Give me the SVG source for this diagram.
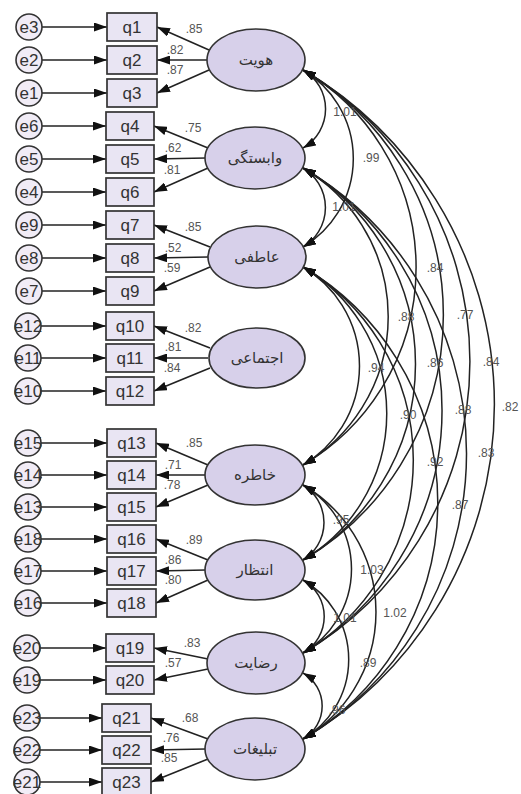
<svg xmlns="http://www.w3.org/2000/svg" width="521" height="794" viewBox="0 0 521 794">
<style>
.ec{fill:#f1ecf6;stroke:#333;stroke-width:1.6}
.bx{fill:#e9e5f3;stroke:#333;stroke-width:1.7}
.fa{fill:#d7d0ea;stroke:#333;stroke-width:1.6}
.et{font-family:"Liberation Sans",Arial,sans-serif;font-size:17px;fill:#333;text-anchor:middle}
.qt{font-family:"Liberation Sans",Arial,sans-serif;font-size:17px;fill:#333;text-anchor:middle}
.ft{font-family:"DejaVu Sans",sans-serif;font-size:15px;fill:#333;text-anchor:middle}
.lb{font-family:"Liberation Sans",Arial,sans-serif;font-size:12px;fill:#555;text-anchor:middle}
.ln{stroke:#222;stroke-width:1.6;fill:none;marker-end:url(#ah)}
.cv{stroke:#222;stroke-width:1.5;fill:none;marker-start:url(#ah);marker-end:url(#ah)}
</style>
<defs>
<marker id="ah" viewBox="0 0 13 9" refX="13" refY="4.5" markerWidth="13" markerHeight="9" markerUnits="userSpaceOnUse" orient="auto-start-reverse"><path d="M0,0 L13,4.5 L0,9 z" fill="#111"/></marker>
</defs>
<rect width="521" height="794" fill="#fff"/>

<g id="connectors">
<line class="ln" x1="42" y1="27" x2="107" y2="27"/>
<line class="ln" x1="42" y1="60" x2="107" y2="60"/>
<line class="ln" x1="42" y1="93" x2="107" y2="93"/>
<line class="ln" x1="42" y1="126" x2="106" y2="126"/>
<line class="ln" x1="42" y1="159" x2="106" y2="159"/>
<line class="ln" x1="42" y1="192" x2="106" y2="192"/>
<line class="ln" x1="42" y1="225" x2="106" y2="225"/>
<line class="ln" x1="42" y1="258" x2="106" y2="258"/>
<line class="ln" x1="42" y1="291" x2="106" y2="291"/>
<line class="ln" x1="41" y1="326" x2="106" y2="326"/>
<line class="ln" x1="41" y1="358" x2="106" y2="358"/>
<line class="ln" x1="41" y1="391" x2="106" y2="391"/>
<line class="ln" x1="41" y1="443" x2="107" y2="443"/>
<line class="ln" x1="41" y1="475" x2="107" y2="475"/>
<line class="ln" x1="41" y1="507" x2="107" y2="507"/>
<line class="ln" x1="41" y1="539" x2="107" y2="539"/>
<line class="ln" x1="41" y1="571" x2="107" y2="571"/>
<line class="ln" x1="41" y1="603" x2="107" y2="603"/>
<line class="ln" x1="40" y1="648" x2="106" y2="648"/>
<line class="ln" x1="40" y1="680" x2="106" y2="680"/>
<line class="ln" x1="40" y1="718" x2="102" y2="718"/>
<line class="ln" x1="40" y1="750" x2="102" y2="750"/>
<line class="ln" x1="40" y1="782" x2="102" y2="782"/>
<line class="ln" x1="209" y1="50" x2="157" y2="27"/>
<line class="ln" x1="207" y1="60" x2="157" y2="60"/>
<line class="ln" x1="209" y1="70" x2="157" y2="93"/>
<line class="ln" x1="208" y1="148" x2="154" y2="126"/>
<line class="ln" x1="206" y1="158" x2="154" y2="159"/>
<line class="ln" x1="208" y1="168" x2="154" y2="192"/>
<line class="ln" x1="210" y1="247" x2="154" y2="225"/>
<line class="ln" x1="208" y1="257" x2="154" y2="258"/>
<line class="ln" x1="210" y1="267" x2="154" y2="291"/>
<line class="ln" x1="210" y1="348" x2="154" y2="326"/>
<line class="ln" x1="208" y1="358" x2="154" y2="358"/>
<line class="ln" x1="210" y1="368" x2="154" y2="391"/>
<line class="ln" x1="208" y1="465" x2="156" y2="443"/>
<line class="ln" x1="206" y1="475" x2="156" y2="475"/>
<line class="ln" x1="208" y1="485" x2="156" y2="507"/>
<line class="ln" x1="208" y1="560" x2="156" y2="539"/>
<line class="ln" x1="206" y1="570" x2="156" y2="571"/>
<line class="ln" x1="208" y1="580" x2="156" y2="603"/>
<line class="ln" x1="208" y1="659" x2="154" y2="648"/>
<line class="ln" x1="208" y1="669" x2="154" y2="680"/>
<line class="ln" x1="208" y1="739" x2="151" y2="718"/>
<line class="ln" x1="206" y1="749" x2="151" y2="750"/>
<line class="ln" x1="208" y1="759" x2="151" y2="782"/>
<path class="cv" d="M303,70 A45,45 0 0 1 303,148"/>
<path class="cv" d="M303,70 A103,103 0 0 1 303,247"/>
<path class="cv" d="M303,70 A229,229 0 0 1 303,465"/>
<path class="cv" d="M303,70 A284,284 0 0 1 303,560"/>
<path class="cv" d="M303,70 A338,338 0 0 1 303,653"/>
<path class="cv" d="M303,70 A388,388 0 0 1 303,739"/>
<path class="cv" d="M303,168 A46,46 0 0 1 303,247"/>
<path class="cv" d="M303,168 A172,172 0 0 1 303,465"/>
<path class="cv" d="M303,168 A227,227 0 0 1 303,560"/>
<path class="cv" d="M303,168 A281,281 0 0 1 303,653"/>
<path class="cv" d="M303,168 A331,331 0 0 1 303,739"/>
<path class="cv" d="M303,267 A115,115 0 0 1 303,465"/>
<path class="cv" d="M303,267 A170,170 0 0 1 303,560"/>
<path class="cv" d="M303,267 A224,224 0 0 1 303,653"/>
<path class="cv" d="M303,267 A274,274 0 0 1 303,739"/>
<path class="cv" d="M303,485 A44,44 0 0 1 303,560"/>
<path class="cv" d="M303,485 A97,97 0 0 1 303,653"/>
<path class="cv" d="M303,485 A147,147 0 0 1 303,739"/>
<path class="cv" d="M303,580 A42,42 0 0 1 303,653"/>
<path class="cv" d="M303,580 A92,92 0 0 1 303,739"/>
<path class="cv" d="M303,673 A38,38 0 0 1 303,739"/>
</g>

<g id="labels">
<text class="lb" x="194" y="33">.85</text>
<text class="lb" x="175" y="54">.82</text>
<text class="lb" x="175" y="74">.87</text>
<text class="lb" x="193" y="132">.75</text>
<text class="lb" x="173" y="152">.62</text>
<text class="lb" x="172" y="174">.81</text>
<text class="lb" x="193" y="231">.85</text>
<text class="lb" x="173" y="252">.52</text>
<text class="lb" x="172" y="272">.59</text>
<text class="lb" x="193" y="332">.82</text>
<text class="lb" x="173" y="351">.81</text>
<text class="lb" x="172" y="372">.84</text>
<text class="lb" x="194" y="447">.85</text>
<text class="lb" x="173" y="469">.71</text>
<text class="lb" x="172" y="489">.78</text>
<text class="lb" x="194" y="544">.89</text>
<text class="lb" x="173" y="564">.86</text>
<text class="lb" x="173" y="584">.80</text>
<text class="lb" x="192" y="647">.83</text>
<text class="lb" x="173" y="667">.57</text>
<text class="lb" x="190" y="722">.68</text>
<text class="lb" x="171" y="742">.76</text>
<text class="lb" x="169" y="762">.85</text>
<text class="lb" x="345" y="116">1.01</text>
<text class="lb" x="371" y="162">.99</text>
<text class="lb" x="344" y="211">1.01</text>
<text class="lb" x="435" y="272">.84</text>
<text class="lb" x="406" y="321">.88</text>
<text class="lb" x="465" y="319">.77</text>
<text class="lb" x="376" y="372">.94</text>
<text class="lb" x="435" y="367">.86</text>
<text class="lb" x="491" y="366">.84</text>
<text class="lb" x="510" y="411">.82</text>
<text class="lb" x="408" y="419">.90</text>
<text class="lb" x="463" y="414">.88</text>
<text class="lb" x="435" y="466">.92</text>
<text class="lb" x="486" y="457">.83</text>
<text class="lb" x="460" y="509">.87</text>
<text class="lb" x="341" y="524">.95</text>
<text class="lb" x="372" y="574">1.03</text>
<text class="lb" x="395" y="617">1.02</text>
<text class="lb" x="345" y="622">1.01</text>
<text class="lb" x="368" y="667">.89</text>
<text class="lb" x="337" y="714">.96</text>
</g>

<g id="e3"><circle class="ec" cx="29" cy="27" r="13"/><text class="et" x="29" y="33">e3</text></g>
<g id="e2"><circle class="ec" cx="29" cy="60" r="13"/><text class="et" x="29" y="66">e2</text></g>
<g id="e1"><circle class="ec" cx="29" cy="93" r="13"/><text class="et" x="29" y="99">e1</text></g>
<g id="e6"><circle class="ec" cx="29" cy="126" r="13"/><text class="et" x="29" y="132">e6</text></g>
<g id="e5"><circle class="ec" cx="29" cy="159" r="13"/><text class="et" x="29" y="165">e5</text></g>
<g id="e4"><circle class="ec" cx="29" cy="192" r="13"/><text class="et" x="29" y="198">e4</text></g>
<g id="e9"><circle class="ec" cx="29" cy="225" r="13"/><text class="et" x="29" y="231">e9</text></g>
<g id="e8"><circle class="ec" cx="29" cy="258" r="13"/><text class="et" x="29" y="264">e8</text></g>
<g id="e7"><circle class="ec" cx="29" cy="291" r="13"/><text class="et" x="29" y="297">e7</text></g>
<g id="e12"><circle class="ec" cx="28" cy="326" r="13"/><text class="et" x="28" y="332">e12</text></g>
<g id="e11"><circle class="ec" cx="28" cy="358" r="13"/><text class="et" x="28" y="364">e11</text></g>
<g id="e10"><circle class="ec" cx="28" cy="391" r="13"/><text class="et" x="28" y="397">e10</text></g>
<g id="e15"><circle class="ec" cx="28" cy="443" r="13"/><text class="et" x="28" y="449">e15</text></g>
<g id="e14"><circle class="ec" cx="28" cy="475" r="13"/><text class="et" x="28" y="481">e14</text></g>
<g id="e13"><circle class="ec" cx="28" cy="507" r="13"/><text class="et" x="28" y="513">e13</text></g>
<g id="e18"><circle class="ec" cx="28" cy="539" r="13"/><text class="et" x="28" y="545">e18</text></g>
<g id="e17"><circle class="ec" cx="28" cy="571" r="13"/><text class="et" x="28" y="577">e17</text></g>
<g id="e16"><circle class="ec" cx="28" cy="603" r="13"/><text class="et" x="28" y="609">e16</text></g>
<g id="e20"><circle class="ec" cx="27" cy="648" r="13"/><text class="et" x="27" y="654">e20</text></g>
<g id="e19"><circle class="ec" cx="27" cy="680" r="13"/><text class="et" x="27" y="686">e19</text></g>
<g id="e23"><circle class="ec" cx="27" cy="718" r="13"/><text class="et" x="27" y="724">e23</text></g>
<g id="e22"><circle class="ec" cx="27" cy="750" r="13"/><text class="et" x="27" y="756">e22</text></g>
<g id="e21"><circle class="ec" cx="27" cy="782" r="13"/><text class="et" x="27" y="788">e21</text></g>

<g id="q1"><rect class="bx" x="107" y="13" width="50" height="28"/><text class="qt" x="132" y="33">q1</text></g>
<g id="q2"><rect class="bx" x="107" y="46" width="50" height="28"/><text class="qt" x="132" y="66">q2</text></g>
<g id="q3"><rect class="bx" x="107" y="79" width="50" height="28"/><text class="qt" x="132" y="99">q3</text></g>
<g id="q4"><rect class="bx" x="106" y="112" width="48" height="28"/><text class="qt" x="130" y="132">q4</text></g>
<g id="q5"><rect class="bx" x="106" y="145" width="48" height="28"/><text class="qt" x="130" y="165">q5</text></g>
<g id="q6"><rect class="bx" x="106" y="178" width="48" height="28"/><text class="qt" x="130" y="198">q6</text></g>
<g id="q7"><rect class="bx" x="106" y="211" width="48" height="28"/><text class="qt" x="130" y="231">q7</text></g>
<g id="q8"><rect class="bx" x="106" y="244" width="48" height="28"/><text class="qt" x="130" y="264">q8</text></g>
<g id="q9"><rect class="bx" x="106" y="277" width="48" height="28"/><text class="qt" x="130" y="297">q9</text></g>
<g id="q10"><rect class="bx" x="106" y="312" width="48" height="28"/><text class="qt" x="130" y="332">q10</text></g>
<g id="q11"><rect class="bx" x="106" y="344" width="48" height="28"/><text class="qt" x="130" y="364">q11</text></g>
<g id="q12"><rect class="bx" x="106" y="377" width="48" height="28"/><text class="qt" x="130" y="397">q12</text></g>
<g id="q13"><rect class="bx" x="107" y="429" width="49" height="28"/><text class="qt" x="131.5" y="449">q13</text></g>
<g id="q14"><rect class="bx" x="107" y="461" width="49" height="28"/><text class="qt" x="131.5" y="481">q14</text></g>
<g id="q15"><rect class="bx" x="107" y="493" width="49" height="28"/><text class="qt" x="131.5" y="513">q15</text></g>
<g id="q16"><rect class="bx" x="107" y="525" width="49" height="28"/><text class="qt" x="131.5" y="545">q16</text></g>
<g id="q17"><rect class="bx" x="107" y="557" width="49" height="28"/><text class="qt" x="131.5" y="577">q17</text></g>
<g id="q18"><rect class="bx" x="107" y="589" width="49" height="28"/><text class="qt" x="131.5" y="609">q18</text></g>
<g id="q19"><rect class="bx" x="106" y="634" width="48" height="28"/><text class="qt" x="130" y="654">q19</text></g>
<g id="q20"><rect class="bx" x="106" y="666" width="48" height="28"/><text class="qt" x="130" y="686">q20</text></g>
<g id="q21"><rect class="bx" x="102" y="704" width="49" height="28"/><text class="qt" x="126.5" y="724">q21</text></g>
<g id="q22"><rect class="bx" x="102" y="736" width="49" height="28"/><text class="qt" x="126.5" y="756">q22</text></g>
<g id="q23"><rect class="bx" x="102" y="768" width="49" height="28"/><text class="qt" x="126.5" y="788">q23</text></g>

<g id="F1"><ellipse class="fa" cx="256" cy="60" rx="49" ry="31"/><text class="ft" x="256" y="65">هویت</text></g>
<g id="F2"><ellipse class="fa" cx="255" cy="158" rx="50" ry="31"/><text class="ft" x="255" y="163">وابستگی</text></g>
<g id="F3"><ellipse class="fa" cx="257" cy="257" rx="49" ry="31"/><text class="ft" x="257" y="262">عاطفی</text></g>
<g id="F4"><ellipse class="fa" cx="257" cy="358" rx="48" ry="30"/><text class="ft" x="257" y="363">اجتماعی</text></g>
<g id="F5"><ellipse class="fa" cx="255" cy="475" rx="50" ry="30"/><text class="ft" x="255" y="480">خاطره</text></g>
<g id="F6"><ellipse class="fa" cx="255" cy="570" rx="50" ry="30"/><text class="ft" x="255" y="575">انتظار</text></g>
<g id="F7"><ellipse class="fa" cx="256" cy="663" rx="49" ry="31"/><text class="ft" x="256" y="668">رضایت</text></g>
<g id="F8"><ellipse class="fa" cx="255" cy="749" rx="50" ry="31"/><text class="ft" x="255" y="754">تبلیغات</text></g>
</svg>
